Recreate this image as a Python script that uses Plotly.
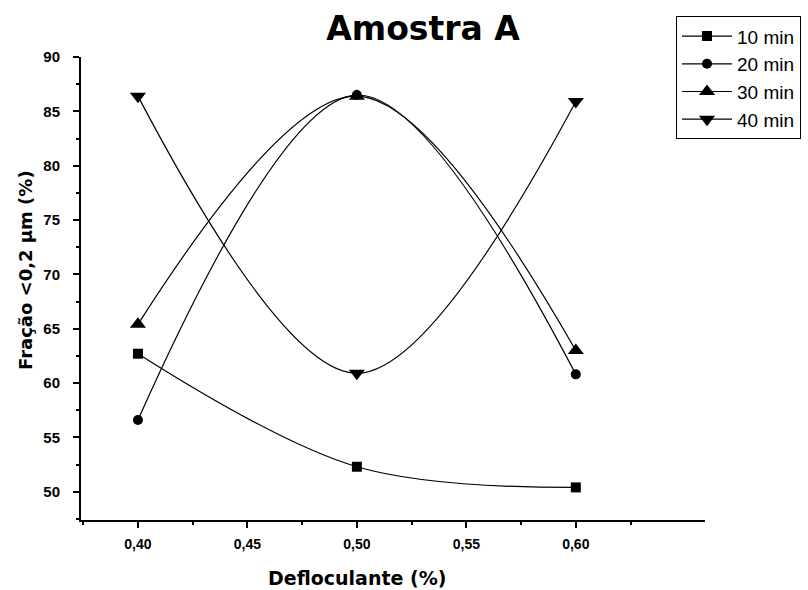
import plotly.graph_objects as go

x_vals = [0.40, 0.50, 0.60]
y_10 = [62.7, 52.3, 50.4]
y_20 = [56.6, 86.5, 60.8]
y_30 = [65.4, 86.4, 63.0]
y_40 = [86.4, 60.9, 85.9]
names = ["10 min", "20 min", "30 min", "40 min"]
series = [y_10, y_20, y_30, y_40]
symbols = ["square", "circle", "triangle-up", "triangle-down"]
sizes = [10, 10, 14, 14]

fig = go.Figure()
for name, ys, sym, sz in zip(names, series, symbols, sizes):
    fig.add_trace(go.Scatter(
        x=x_vals, y=ys, name=name, mode="lines+markers",
        line=dict(color="black", width=1.2, shape="spline", smoothing=1.0),
        marker=dict(symbol=sym, size=sz, color="black"),
    ))

fig.update_layout(
    width=808, height=590,
    paper_bgcolor="white", plot_bgcolor="white",
    margin=dict(l=81, r=103, t=57, b=70, autoexpand=False),
    title=dict(text="<b>Amostra A</b>", x=423 / 808, xanchor="center", y=1 - 28 / 590, yanchor="middle",
               font=dict(family="DejaVu Sans", size=33, color="black")),
    legend=dict(x=(676 - 81) / 624, y=1.088, xanchor="left", yanchor="top",
                bordercolor="black", borderwidth=1, bgcolor="white",
                font=dict(family="Liberation Sans, Arial", size=19, color="black"),
                tracegroupgap=0, itemwidth=50),
    showlegend=True,
    annotations=[
        dict(text="<b>Defloculante (%)</b>", xref="paper", yref="paper",
             x=(357 - 81) / 624, y=-(578 - 520) / 463, xanchor="center", yanchor="middle",
             showarrow=False, font=dict(family="DejaVu Sans", size=19, color="black")),
        dict(text="<b>Fração &lt;0,2 μm (%)</b>", xref="paper", yref="paper",
             x=-(81 - 25) / 624, y=(520 - 270) / 463, xanchor="center", yanchor="middle",
             textangle=-90, showarrow=False, font=dict(family="DejaVu Sans", size=18, color="black")),
    ],
)
fig.update_xaxes(
    range=[0.374, 0.659], tickvals=[0.40, 0.45, 0.50, 0.55, 0.60],
    ticktext=["0,40", "0,45", "0,50", "0,55", "0,60"],
    showline=True, linecolor="black", linewidth=2, showgrid=False, zeroline=False,
    ticks="outside", ticklen=6, tickwidth=2, tickcolor="black",
    minor=dict(tickvals=[0.375, 0.425, 0.475, 0.525, 0.575, 0.625], ticks="outside", ticklen=3, tickwidth=1.5, tickcolor="black"),
    tickfont=dict(family="Liberation Sans, Arial", size=14, color="black", weight="bold"),
    ticklabelstandoff=4,
)
fig.update_yaxes(
    range=[47.4, 90.0], tickvals=[50, 55, 60, 65, 70, 75, 80, 85, 90],
    showline=True, linecolor="black", linewidth=2, showgrid=False, zeroline=False,
    ticks="outside", ticklen=6, tickwidth=2, tickcolor="black",
    minor=dict(tickvals=[47.5, 52.5, 57.5, 62.5, 67.5, 72.5, 77.5, 82.5, 87.5], ticks="outside", ticklen=3, tickwidth=1.5, tickcolor="black"),
    tickfont=dict(family="Liberation Sans, Arial", size=15, color="black", weight="bold"),
    ticklabelstandoff=10,
)
fig.write_html("out.html")
